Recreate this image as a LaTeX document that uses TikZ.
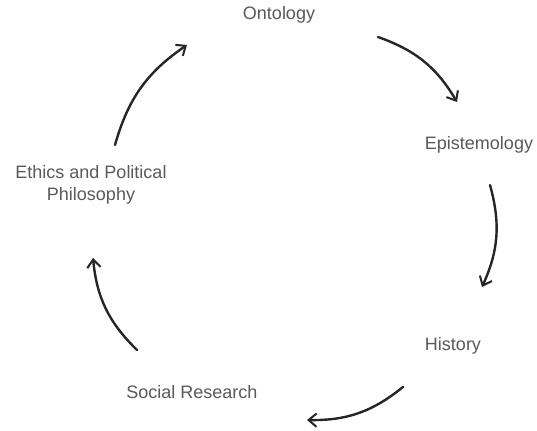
\documentclass[tikz,border=0pt]{standalone}
\usepackage{fontspec}
\setmainfont{Liberation Sans}
\usetikzlibrary{arrows.meta}
\tikzset{
  topic/.style={text=black!65, font=\fontsize{13.5}{17}\selectfont, align=center},
  cycle/.style={->, line width=1.8pt, line cap=round, black!85},
}
\begin{document}
\begin{tikzpicture}[>={Straight Barb[length=6pt, width=10pt, line width=1.5pt]}, x=0.75pt, y=0.75pt]
  \useasboundingbox (0, 0) rectangle (537, 431);
  % topics
  \node[topic] (onto) at (279, 416) {Ontology};
  \node[topic] (epis) at (479, 286) {Epistemology};
  \node[topic] (hist) at (453, 85) {History};
  \node[topic] (soci) at (192, 39) {Social Research};
  \node[topic] (ethi) at (91, 246) {Ethics and Political\\Philosophy};
  % arrow ends
  \coordinate (a1s) at (115, 286); \coordinate (a1e) at (187, 386);
  \coordinate (a2s) at (378, 394); \coordinate (a2e) at (457, 329);
  \coordinate (a3s) at (490, 246); \coordinate (a3e) at (482, 144);
  \coordinate (a4s) at (403, 44);  \coordinate (a4e) at (307, 11);
  \coordinate (a5s) at (137, 81);  \coordinate (a5e) at (93, 173);
  \draw[cycle] (a1s) to[bend left=20] (a1e);
  \draw[cycle] (a2s) to[bend left=20] (a2e);
  \draw[cycle] (a3s) to[bend left=20] (a3e);
  \draw[cycle] (a4s) to[bend left=20] (a4e);
  \draw[cycle] (a5s) to[bend left=20] (a5e);
\end{tikzpicture}
\end{document}
